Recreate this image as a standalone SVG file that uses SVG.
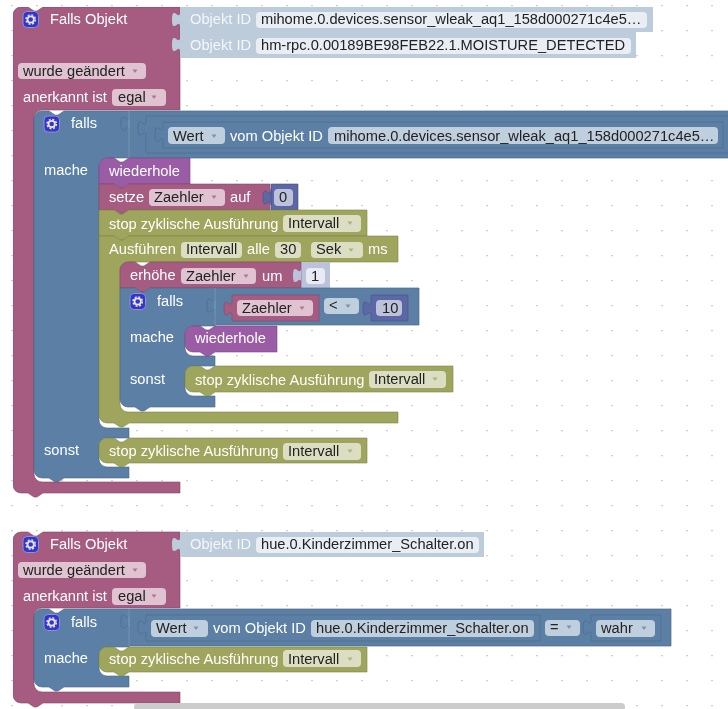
<svg xmlns="http://www.w3.org/2000/svg" xmlns:xlink="http://www.w3.org/1999/xlink" width="728" height="709" viewBox="0 0 728 709">
<style>
text{font-family:"Liberation Sans",Arial,sans-serif;font-size:14.67px}
.t{fill:#fff}.d{fill:#222}.l{fill:#f4f6f9}
.pk{fill:#a55b80;stroke:#844866;stroke-width:.6}
.bl{fill:#5b80a5;stroke:#486684;stroke-width:.6}
.ol{fill:#9fa55b;stroke:#7f8448;stroke-width:.6}
.pu{fill:#9a5ba5;stroke:#7b4884;stroke-width:.6}
.vb{fill:#5b67a5;stroke:#485284;stroke-width:.6}
.lt{fill:#bdccdb}.lv{fill:#bdc2db}
.nest{fill:#5b80a5;stroke:#4a6a8b;stroke-width:.7}
.hi{fill:none;stroke:#8ca6c0;stroke-width:.8}
.fp{fill:#dfc3d1}.fb{fill:#c0cfde}.fo{fill:#dcdec3}.fl{fill:#e8eef4}.fv{fill:#bdc2db}.fi{fill:#e8eaf4}
</style>
<defs>
<pattern id="grid" width="25" height="25" patternUnits="userSpaceOnUse" x="0" y="5">
<path d="M11,.5h2M12,-.5v2" stroke="#cfcfcf" stroke-width="1" fill="none"/>
</pattern>
<filter id="soft" x="0" y="0" width="100%" height="100%"><feGaussianBlur stdDeviation="0.4"/></filter>
<path id="ar" d="M-2.500,-1.500h5l-2.500,3.500z" opacity=".75"/>
<g id="gear">
<rect x="0.500" y="0.500" width="15.500" height="16" rx="4" fill="#3535c8" stroke="#8f8fd8"/>
<circle cx="8.200" cy="8.500" r="3.200" fill="none" stroke="#e6e6f4" stroke-width="1.800"/>
<circle cx="8.200" cy="8.500" r="4.700" fill="none" stroke="#e6e6f4" stroke-width="1.400" stroke-dasharray="2 1.700"/>
</g>
</defs>
<rect width="728" height="709" fill="#fff"/>
<rect width="728" height="709" fill="url(#grid)"/>
<g filter="url(#soft)">
<g id="connectors"/>

<g id="trigger1">
<path class="pk" d="M13,15a8,8 0 0 1 8,-8h7l6,4 3,0 6,-4H180V110H42a8,8 0 0 0 -8,8V474a8,8 0 0 0 8,8H180V493H43l-6,4 -3,0 -6,-4H21a8,8 0 0 1 -8,-8Z"/>
<use href="#gear" x="22.500" y="11"/>
<text class="t" x="50" y="24">Falls Objekt</text>
<rect class="fp" x="18" y="63" width="128" height="16" rx="4"/>
<text class="d" x="23" y="76">wurde geändert</text><use href="#ar" x="135" y="71" fill="#a55b80"/>
<text class="t" x="23" y="102">anerkannt ist</text>
<rect class="fp" x="112" y="89" width="54" height="17" rx="4"/>
<text class="d" x="118" y="102">egal</text><use href="#ar" x="154" y="97" fill="#a55b80"/>
</g>
<g id="objectid1">
<path class="lt" d="M180,7H653V32H180V27c0,-10 -8,8 -8,-7.500s8,2.500 8,-7.500Z"/>
<text class="l" x="190" y="24">Objekt ID</text>
<rect class="fl" x="256" y="12" width="391" height="16" rx="4"/>
<text class="d" x="261" y="24">mihome.0.devices.sensor_wleak_aq1_158d000271c4e5…</text>
</g>
<g id="objectid2">
<path class="lt" d="M180,32H636V58H180V52c0,-10 -8,8 -8,-7.500s8,2.500 8,-7.500Z"/>
<text class="l" x="190" y="50">Objekt ID</text>
<rect class="fl" x="256" y="38" width="375" height="16" rx="4"/>
<text class="d" x="261" y="50">hm-rpc.0.00189BE98FEB22.1.MOISTURE_DETECTED</text>
</g>

<g id="falls1">
<path class="bl" d="M34,119a8,8 0 0 1 8,-8h7l6,4 3,0 6,-4H129V158H107a8,8 0 0 0 -8,8V420a8,8 0 0 0 8,8H129V438H107a8,8 0 0 0 -8,8V459a8,8 0 0 0 8,8H129V478H64l-6,4 -3,0 -6,-4H42a8,8 0 0 1 -8,-8Z"/>
<use href="#gear" x="43.500" y="115.500"/>
<text class="t" x="71" y="128">falls</text>
<text class="t" x="44" y="175">mache</text>
<text class="t" x="44" y="455">sonst</text>
<path class="nest" d="M129,111H729V158H129V131c0,-10 -8,8 -8,-7.500s8,2.500 8,-7.500Z"/>
<path class="hi" d="M129,111V158"/>
<path class="nest" d="M146,116H729V153H146V136c0,-10 -8,8 -8,-7.500s8,2.500 8,-7.500Z"/>
<path class="nest" d="M163,122H723V148H163V142c0,-10 -8,8 -8,-7.500s8,2.500 8,-7.500Z"/>
<rect class="fb" x="168" y="127" width="57" height="17" rx="4"/>
<text class="d" x="173" y="141">Wert</text><use href="#ar" x="214" y="136" fill="#5b80a5"/>
<text class="t" x="230" y="141">vom Objekt ID</text>
<rect class="fb" x="328" y="127" width="390" height="17" rx="4"/>
<text class="d" x="334" y="141">mihome.0.devices.sensor_wleak_aq1_158d000271c4e5…</text>
</g>

<g id="wiederhole1">
<path class="pu" d="M99,166a8,8 0 0 1 8,-8h7l6,4 3,0 6,-4H190V184H129l-6,4 -3,0 -6,-4H99Z"/>
<text class="t" x="109" y="176">wiederhole</text>
</g>
<g id="setze">
<path class="vb" d="M271,184H298V210H271V205c0,-10 -8,8 -8,-7.500s8,2.500 8,-7.500Z"/>
<path class="pk" d="M99,184H114l6,4 3,0 6,-4H270V210H129l-6,4 -3,0 -6,-4H99Z"/>
<path class="vb" d="M271,189V205c0,-10 -8,8 -8,-7.500s8,2.500 8,-7.500Z" stroke="none"/>
<text class="t" x="109" y="202">setze</text>
<rect class="fp" x="149" y="189" width="76" height="17" rx="4"/>
<text class="d" x="154" y="202">Zaehler</text><use href="#ar" x="214" y="197" fill="#a55b80"/>
<text class="t" x="230" y="202">auf</text>
<rect class="fv" x="274" y="189" width="19" height="17" rx="4"/>
<text class="d" x="279" y="202">0</text>
</g>
<g id="stop1">
<path class="ol" d="M99,210H114l6,4 3,0 6,-4H367V236H129l-6,4 -3,0 -6,-4H99Z"/>
<text class="t" x="109" y="229">stop zyklische Ausführung</text>
<rect class="fo" x="283" y="215" width="78" height="17" rx="4"/>
<text class="d" x="288" y="228">Intervall</text><use href="#ar" x="350" y="223" fill="#9fa55b"/>
</g>
<g id="ausfuehren">
<path class="ol" d="M99,236H114l6,4 3,0 6,-4H398V262H128a8,8 0 0 0 -8,8V404a8,8 0 0 0 8,8H398V423H129l-6,4 -3,0 -6,-4H107a8,8 0 0 1 -8,-8Z"/>
<text class="t" x="109" y="254">Ausführen</text>
<rect class="fo" x="181" y="242" width="61" height="16" rx="4"/>
<text class="d" x="186" y="254">Intervall</text>
<text class="t" x="247" y="254">alle</text>
<rect class="fo" x="275" y="242" width="26" height="16" rx="4"/>
<text class="d" x="280" y="254">30</text>
<rect class="fo" x="311" y="242" width="52" height="16" rx="4"/>
<text class="d" x="316" y="254">Sek</text><use href="#ar" x="351" y="250" fill="#9fa55b"/>
<text class="t" x="368" y="254">ms</text>
</g>
<g id="erhoehe">
<path class="lv" d="M301,262H330V288H301V283c0,-10 -8,8 -8,-7.500s8,2.500 8,-7.500Z"/>
<path class="pk" d="M120,270a8,8 0 0 1 8,-8h7l6,4 3,0 6,-4H301V288H150l-6,4 -3,0 -6,-4H120Z"/>
<path class="lv" d="M301,268V283c0,-10 -8,8 -8,-7.500s8,2.500 8,-7.500Z"/>
<text class="t" x="130" y="280">erhöhe</text>
<rect class="fp" x="181" y="268" width="75" height="16" rx="4"/>
<text class="d" x="186" y="281">Zaehler</text><use href="#ar" x="246" y="276" fill="#a55b80"/>
<text class="t" x="262" y="281">um</text>
<rect class="fi" x="306" y="268" width="19" height="16" rx="4"/>
<text class="d" x="311" y="281">1</text>
</g>
<g id="falls2">
<path class="bl" d="M120,288H135l6,4 3,0 6,-4H215V326H193a8,8 0 0 0 -8,8V348a8,8 0 0 0 8,8H215V366H193a8,8 0 0 0 -8,8V388a8,8 0 0 0 8,8H215V407H150l-6,4 -3,0 -6,-4H128a8,8 0 0 1 -8,-8Z"/>
<use href="#gear" x="129.500" y="293"/>
<text class="t" x="157" y="306">falls</text>
<text class="t" x="130" y="342">mache</text>
<text class="t" x="130" y="384">sonst</text>
<path class="nest" d="M215,288H419V325H215V313c0,-10 -8,8 -8,-7.500s8,2.500 8,-7.500Z"/>
<path class="hi" d="M215,288V325"/>
<path class="pk" d="M232,295H319V321H232V316c0,-10 -8,8 -8,-7.500s8,2.500 8,-7.500Z"/>
<rect class="fp" x="237" y="300" width="76" height="16" rx="4"/>
<text class="d" x="242" y="313">Zaehler</text><use href="#ar" x="302" y="308" fill="#a55b80"/>
<rect class="fb" x="324" y="298" width="35" height="16" rx="4"/>
<text class="d" x="329" y="310">&lt;</text><use href="#ar" x="348" y="306" fill="#5b80a5"/>
<path class="vb" d="M371,295H408V321H371V316c0,-10 -8,8 -8,-7.500s8,2.500 8,-7.500Z"/>
<rect class="fv" x="376" y="300" width="26" height="16" rx="4"/>
<text class="d" x="382" y="313">10</text>
</g>
<g id="wiederhole2">
<path class="pu" d="M185,334a8,8 0 0 1 8,-8h7l6,4 3,0 6,-4H277V352H215l-6,4 -3,0 -6,-4H193a8,8 0 0 1 -8,-8Z"/>
<text class="t" x="195" y="343">wiederhole</text>
</g>
<g id="stop2">
<path class="ol" d="M185,374a8,8 0 0 1 8,-8h7l6,4 3,0 6,-4H453V392H215l-6,4 -3,0 -6,-4H193a8,8 0 0 1 -8,-8Z"/>
<text class="t" x="195" y="385">stop zyklische Ausführung</text>
<rect class="fo" x="369" y="371" width="77" height="17" rx="4"/>
<text class="d" x="374" y="384">Intervall</text><use href="#ar" x="435" y="379" fill="#9fa55b"/>
</g>
<g id="stop3">
<path class="ol" d="M99,446a8,8 0 0 1 8,-8h7l6,4 3,0 6,-4H367V463H129l-6,4 -3,0 -6,-4H107a8,8 0 0 1 -8,-8Z"/>
<text class="t" x="109" y="456">stop zyklische Ausführung</text>
<rect class="fo" x="283" y="443" width="78" height="17" rx="4"/>
<text class="d" x="288" y="456">Intervall</text><use href="#ar" x="350" y="451" fill="#9fa55b"/>
</g>

<g id="trigger2">
<path class="pk" d="M13,540a8,8 0 0 1 8,-8h7l6,4 3,0 6,-4H180V608H42a8,8 0 0 0 -8,8V684a8,8 0 0 0 8,8H180V703H43l-6,4 -3,0 -6,-4H21a8,8 0 0 1 -8,-8Z"/>
<use href="#gear" x="22.500" y="536"/>
<text class="t" x="50" y="549">Falls Objekt</text>
<rect class="fp" x="18" y="562" width="128" height="16" rx="4"/>
<text class="d" x="23" y="575">wurde geändert</text><use href="#ar" x="135" y="570" fill="#a55b80"/>
<text class="t" x="23" y="601">anerkannt ist</text>
<rect class="fp" x="112" y="588" width="54" height="17" rx="4"/>
<text class="d" x="118" y="601">egal</text><use href="#ar" x="154" y="596" fill="#a55b80"/>
</g>
<g id="objectid3">
<path class="lt" d="M180,532H484V557H180V552c0,-10 -8,8 -8,-7.500s8,2.500 8,-7.500Z"/>
<text class="l" x="190" y="549">Objekt ID</text>
<rect class="fl" x="256" y="537" width="223" height="16" rx="4"/>
<text class="d" x="261" y="549">hue.0.Kinderzimmer_Schalter.on</text>
</g>
<g id="falls3">
<path class="bl" d="M34,617a8,8 0 0 1 8,-8h7l6,4 3,0 6,-4H129V647H107a8,8 0 0 0 -8,8V668a8,8 0 0 0 8,8H129V687H64l-6,4 -3,0 -6,-4H42a8,8 0 0 1 -8,-8Z"/>
<use href="#gear" x="43.500" y="614"/>
<text class="t" x="71" y="627">falls</text>
<text class="t" x="44" y="663">mache</text>
<path class="nest" d="M129,609H671V646H129V629c0,-10 -8,8 -8,-7.500s8,2.500 8,-7.500Z"/>
<path class="hi" d="M129,609V646"/>
<path class="nest" d="M146,615H540V641H146V635c0,-10 -8,8 -8,-7.500s8,2.500 8,-7.500Z"/>
<rect class="fb" x="151" y="620" width="57" height="17" rx="4"/>
<text class="d" x="156" y="633">Wert</text><use href="#ar" x="196" y="628" fill="#5b80a5"/>
<text class="t" x="213" y="633">vom Objekt ID</text>
<rect class="fb" x="311" y="620" width="223" height="17" rx="4"/>
<text class="d" x="316" y="633">hue.0.Kinderzimmer_Schalter.on</text>
<rect class="fb" x="545" y="620" width="35" height="16" rx="4"/>
<text class="d" x="550" y="632">=</text><use href="#ar" x="569" y="627" fill="#5b80a5"/>
<path class="nest" d="M591,615H661V641H591V635c0,-10 -8,8 -8,-7.500s8,2.500 8,-7.500Z"/>
<rect class="fb" x="596" y="620" width="59" height="17" rx="4"/>
<text class="d" x="601" y="633">wahr</text><use href="#ar" x="644" y="628" fill="#5b80a5"/>
</g>
<g id="stop4">
<path class="ol" d="M99,655a8,8 0 0 1 8,-8h7l6,4 3,0 6,-4H367V672H129l-6,4 -3,0 -6,-4H107a8,8 0 0 1 -8,-8Z"/>
<text class="t" x="109" y="664">stop zyklische Ausführung</text>
<rect class="fo" x="283" y="650" width="78" height="17" rx="4"/>
<text class="d" x="288" y="664">Intervall</text><use href="#ar" x="350" y="659" fill="#9fa55b"/>
</g>
<rect id="scrollbar" x="134" y="703" width="491" height="8" rx="4" fill="#cccccc"/>
</g>
</svg>
